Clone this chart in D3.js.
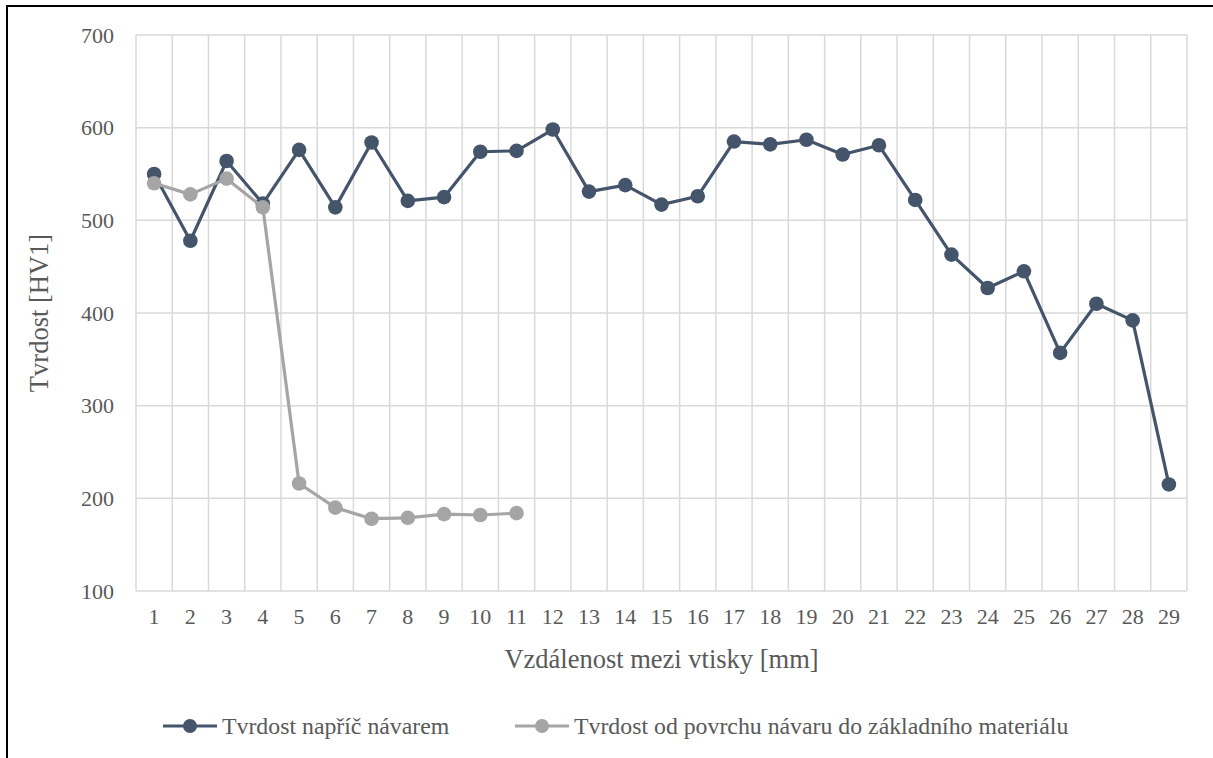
<!DOCTYPE html>
<html>
<head>
<meta charset="utf-8">
<script src="https://cdn.jsdelivr.net/npm/d3@7"></script>
<style>
  html, body { margin: 0; padding: 0; background: #fff; }
  svg { display: block; }
  text { font-family: "Liberation Serif", "Times New Roman", serif; fill: #595959; }
</style>
</head>
<body>
<svg id="chart" width="1213" height="758"></svg>
<script>
const categories = d3.range(1, 30).map(String);
const seriesNames = ["Tvrdost napříč návarem", "Tvrdost od povrchu návaru do základního materiálu"];
const acrossWeld = [550, 478, 564, 518, 576, 514, 584, 521, 525, 574, 575, 598, 531, 538, 517, 526, 585, 582, 587, 571, 581, 522, 463, 427, 445, 357, 410, 392, 215];
const fromSurface = [540, 528, 545, 514, 216, 190, 178, 179, 183, 182, 184];
const yTicks = [100, 200, 300, 400, 500, 600, 700];
const xTitle = "Vzdálenost mezi vtisky [mm]";
const yTitle = "Tvrdost [HV1]";
const colors = ["#44546A", "#A5A5A5"];

const svg = d3.select("#chart");
const pL = 136, pR = 1187, pT = 35, pB = 591;

// outer chart border (left and top visible)
svg.append("path")
  .attr("d", `M7,760 L7,6 L1220,6`)
  .attr("fill", "none").attr("stroke", "#000").attr("stroke-width", 2);

const x = d3.scaleBand().domain(categories).range([pL, pR]).paddingInner(0).paddingOuter(0);
const y = d3.scaleLinear().domain([100, 700]).range([pB, pT]);

// horizontal gridlines
svg.append("g").selectAll("line").data(yTicks).join("line")
  .attr("x1", pL).attr("x2", pR)
  .attr("y1", d => y(d)).attr("y2", d => y(d))
  .attr("stroke", "#D9D9D9").attr("stroke-width", 1.5);

// vertical gridlines at category boundaries
const bounds = categories.map(c => x(c)).concat([x(categories[categories.length - 1]) + x.bandwidth()]);
svg.append("g").selectAll("line").data(bounds).join("line")
  .attr("x1", d => d).attr("x2", d => d)
  .attr("y1", pT).attr("y2", pB)
  .attr("stroke", "#D9D9D9").attr("stroke-width", 1.5);

// y axis labels
const yAxis = d3.axisLeft(y).tickValues(yTicks).tickSize(0).tickPadding(22);
const yg = svg.append("g").attr("transform", `translate(${pL},0)`).call(yAxis);
yg.select(".domain").remove();
yg.selectAll("text").attr("font-size", 22).attr("fill", "#595959")
  .style("font-family", '"Liberation Serif", serif');

// x axis labels
const xAxis = d3.axisBottom(x).tickSize(0).tickPadding(17);
const xg = svg.append("g").attr("transform", `translate(0,${pB})`).call(xAxis);
xg.select(".domain").remove();
xg.selectAll("text").attr("font-size", 22).attr("fill", "#595959")
  .style("font-family", '"Liberation Serif", serif');

// axis titles
svg.append("text").attr("x", (pL + pR) / 2).attr("y", 668)
  .attr("text-anchor", "middle").attr("font-size", 26.5).text(xTitle);
svg.append("text").attr("transform", `translate(48,${(pT + pB) / 2}) rotate(-90)`)
  .attr("text-anchor", "middle").attr("font-size", 26.5).text(yTitle);

const cx = (d, i) => x(categories[i]) + x.bandwidth() / 2;
const line = d3.line().x((d, i) => cx(d, i)).y(d => y(d));

[acrossWeld, fromSurface].forEach((data, si) => {
  const g = svg.append("g");
  g.append("path").datum(data).attr("d", line)
    .attr("fill", "none").attr("stroke", colors[si]).attr("stroke-width", 3.2)
    .attr("stroke-linejoin", "round");
  g.selectAll("circle").data(data).join("circle")
    .attr("cx", (d, i) => cx(d, i)).attr("cy", d => y(d)).attr("r", 7.3)
    .attr("fill", colors[si]);
});

// legend
const legendY = 726;
const legendItems = [{ x0: 163, tx: 222 }, { x0: 515, tx: 574 }];
legendItems.forEach((it, i) => {
  const g = svg.append("g");
  g.append("line").attr("x1", it.x0).attr("x2", it.x0 + 54)
    .attr("y1", legendY).attr("y2", legendY)
    .attr("stroke", colors[i]).attr("stroke-width", 3.2);
  g.append("circle").attr("cx", it.x0 + 27).attr("cy", legendY).attr("r", 7)
    .attr("fill", colors[i]);
  g.append("text").attr("x", it.tx).attr("y", legendY + 8)
    .attr("font-size", 23.8).text(seriesNames[i]);
});
</script>
</body>
</html>
